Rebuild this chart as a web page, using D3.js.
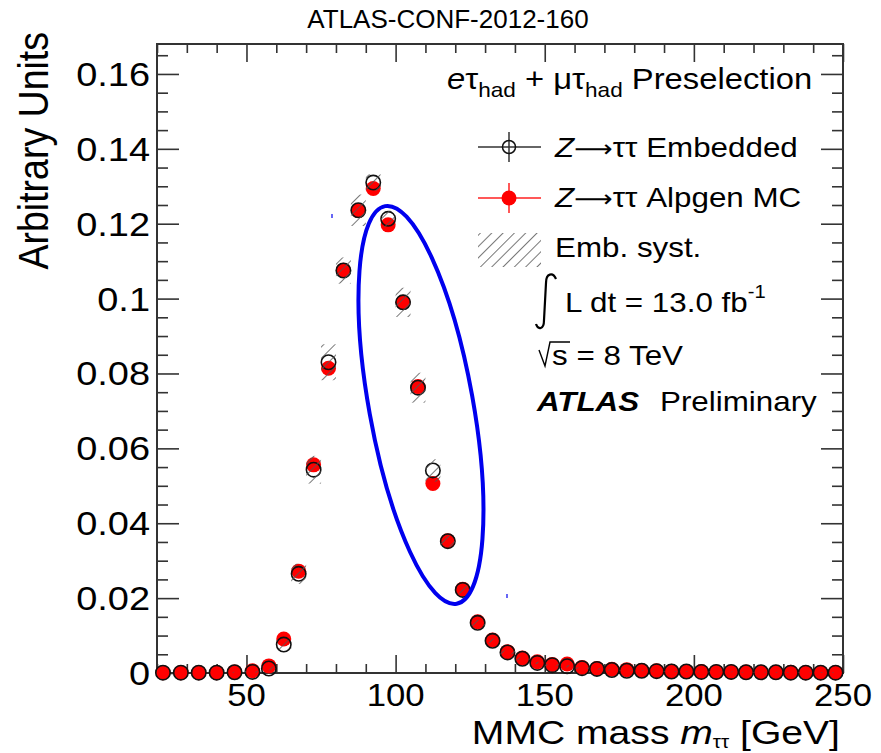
<!DOCTYPE html>
<html><head><meta charset="utf-8">
<script src="https://cdn.jsdelivr.net/npm/d3@7"></script>
<style>
body{margin:0;background:#fff}
svg{display:block}
text{font-family:"Liberation Sans",Arial,Helvetica,sans-serif;fill:#000}
</style>
</head><body>
<svg id="c" width="881" height="753"></svg>
<script>
// ---- data ----
const massBins = [22,28,34,40,46,52,57.5,62.5,67.5,72.5,77.5,82.5,87.5,92.5,97.5,102.5,107.5,112.5,117.5,122.5,127.5,132.5,137.5,142.5,147.5,152.5,157.5,162.5,167.5,172.5,177.5,182.5,187.5,192.5,197.5,202.5,207.5,212.5,217.5,222.5,227.5,232.5,237.5,242.5,247.5];
const embedded = [0.0001,0.0001,0.0001,0.0001,0.0002,0.0003,0.0012,0.0076,0.0265,0.0543,0.0830,0.1075,0.1236,0.1310,0.1213,0.0990,0.0762,0.0541,0.0352,0.0222,0.0134,0.0086,0.0055,0.0038,0.0027,0.0021,0.0018,0.0013,0.0011,0.0008,0.0006,0.0006,0.0005,0.0004,0.0004,0.0003,0.0003,0.0003,0.0002,0.0002,0.0002,0.0001,0.0001,0.0001,0.0001];
const alpgen = [0.0001,0.0001,0.0001,0.0001,0.0003,0.0006,0.0019,0.0091,0.0272,0.0556,0.0814,0.1076,0.1235,0.1294,0.1197,0.0990,0.0765,0.0506,0.0353,0.0224,0.0137,0.0088,0.0057,0.0040,0.0030,0.0023,0.0024,0.0015,0.0012,0.0010,0.0009,0.0007,0.0006,0.0005,0.0004,0.0004,0.0003,0.0003,0.0003,0.0002,0.0002,0.0002,0.0001,0.0001,0.0001];
const embSyst = [0,0,0,0,0.0001,0.0002,0.0005,0.0012,0.0027,0.0037,0.0048,0.0035,0.0042,0.0022,0.0022,0.0039,0.0040,0.0030,0.0015,0.0010,0.0008,0.0006,0.0005,0.0004,0.0003,0.0003,0.0003,0.0002,0.0002,0.0002,0.0001,0.0001,0.0001,0.0001,0.0001,0.0001,0.0001,0.0001,0.0001,0.0001,0.0001,0.0001,0.0001,0.0001,0.0001];
const binWidth = 5;
const xTickValues = [50,100,150,200,250];
const yTickValues = [0,0.02,0.04,0.06,0.08,0.1,0.12,0.14,0.16];
const xDomain = [20,250];
const yDomain = [0,0.168];
const ellipseCenter = [108.5, 0.0716];

// ---- layout ----
const L = 157, R = 843, T = 44, B = 673;
const SX = 1.12;
const svg = d3.select("#c");
const x = d3.scaleLinear(xDomain, [L, R]);
const y = d3.scaleLinear(yDomain, [B, T]);

// hatch pattern
const defs = svg.append("defs");
const pat = defs.append("pattern").attr("id","hatch").attr("patternUnits","userSpaceOnUse")
  .attr("width",8).attr("height",8).attr("patternTransform","rotate(45)");
pat.append("line").attr("x1",0).attr("y1",0).attr("x2",0).attr("y2",8)
  .attr("stroke","#555").attr("stroke-width",1.6);

// axes ticks
const xMinor = d3.range(20,251,10).filter(v=>v%50!==0);
const yMinor = d3.range(0,0.1681,0.005).filter(v=>Math.abs(v/0.02-Math.round(v/0.02))>1e-6);
function axisG(axis, tx, ty){
  const g = svg.append("g").attr("transform",`translate(${tx},${ty})`).call(axis);
  g.select(".domain").remove();
  g.selectAll("line").attr("stroke","#333").attr("stroke-width",1.6);
  g.selectAll("text").remove();
  return g;
}
axisG(d3.axisBottom(x).tickValues(xTickValues).tickSize(-18).tickFormat(""),0,B);
axisG(d3.axisBottom(x).tickValues(xMinor).tickSize(-9).tickFormat(""),0,B);
axisG(d3.axisTop(x).tickValues(xTickValues).tickSize(-18).tickFormat(""),0,T);
axisG(d3.axisTop(x).tickValues(xMinor).tickSize(-9).tickFormat(""),0,T);
axisG(d3.axisLeft(y).tickValues(yTickValues).tickSize(-22).tickFormat(""),L,0);
axisG(d3.axisLeft(y).tickValues(yMinor).tickSize(-11).tickFormat(""),L,0);
axisG(d3.axisRight(y).tickValues(yTickValues).tickSize(-22).tickFormat(""),R,0);
axisG(d3.axisRight(y).tickValues(yMinor).tickSize(-11).tickFormat(""),R,0);
svg.append("rect").attr("x",L).attr("y",T).attr("width",R-L).attr("height",B-T)
  .attr("fill","none").attr("stroke","#333").attr("stroke-width",2);

// tick labels
function stext(px, py, anchor, size, sx){
  return svg.append("text").attr("transform",`translate(${px},${py}) scale(${sx||SX},1)`)
    .attr("text-anchor",anchor).attr("font-size",size);
}
xTickValues.forEach(v=>{ stext(x(v),706,"middle",31).text(v); });
yTickValues.forEach(v=>{ stext(150,y(v)+12,"end",33,1.15).text(+v.toFixed(2)); });

// data
const pts = massBins.map((m,i)=>({m, e:embedded[i], a:alpgen[i], s:embSyst[i]}));
const plot = svg.append("g");
plot.selectAll(".red").data(pts).join("circle").attr("class","red")
  .attr("cx",d=>x(d.m)).attr("cy",d=>y(d.a)).attr("r",7.5).attr("fill","#ff0000");
plot.selectAll(".emb").data(pts).join("circle").attr("class","emb")
  .attr("cx",d=>x(d.m)).attr("cy",d=>y(d.e)).attr("r",7.2)
  .attr("fill","none").attr("stroke","#111").attr("stroke-width",1.6);
plot.selectAll(".syst").data(pts.filter(d=>d.s>0)).join("rect").attr("class","syst")
  .attr("x",d=>x(d.m-binWidth/2)).attr("width",d=>x(d.m+binWidth/2)-x(d.m-binWidth/2))
  .attr("y",d=>y(d.e+d.s)).attr("height",d=>y(d.e-d.s)-y(d.e+d.s))
  .attr("fill","url(#hatch)");

// blue ellipse annotation
const ecx = x(ellipseCenter[0]), ecy = y(ellipseCenter[1]);
svg.append("ellipse").attr("cx",ecx).attr("cy",ecy).attr("rx",52).attr("ry",202)
  .attr("transform",`rotate(-10.2,${ecx},${ecy})`)
  .attr("fill","none").attr("stroke","#0000ee").attr("stroke-width",4);
svg.append("line").attr("x1",332).attr("x2",332).attr("y1",214).attr("y2",218).attr("stroke","#0000ee").attr("stroke-width",1.2);
svg.append("line").attr("x1",507).attr("x2",507).attr("y1",594).attr("y2",598).attr("stroke","#0000ee").attr("stroke-width",1.2);

// titles
stext(448,28,"middle",26,1.0).text("ATLAS-CONF-2012-160");
svg.append("text").attr("transform",`translate(48,32) scale(1.15,1) rotate(-90)`)
  .attr("text-anchor","end").attr("font-size",37.5).text("Arbitrary Units");
const xl = stext(840,744,"end",34,1.15);
xl.append("tspan").text("MMC mass ");
xl.append("tspan").attr("font-style","italic").text("m");
xl.append("tspan").attr("font-size",18).attr("dy",4).text("ττ");
xl.append("tspan").attr("dy",-4).text(" [GeV]");

// legend
const l1 = stext(447,89,"start",29,1.13);
l1.append("tspan").attr("font-style","italic").text("e");
l1.append("tspan").text("τ");
l1.append("tspan").attr("font-size",20).attr("dy",8).text("had");
l1.append("tspan").attr("dy",-8).text(" + μτ");
l1.append("tspan").attr("font-size",20).attr("dy",8).text("had");
l1.append("tspan").attr("dy",-8).text(" Preselection");

// entry 1
svg.append("line").attr("x1",478).attr("x2",541).attr("y1",147).attr("y2",147).attr("stroke","#333").attr("stroke-width",1.5);
svg.append("line").attr("x1",509).attr("x2",509).attr("y1",132).attr("y2",162).attr("stroke","#333").attr("stroke-width",1.5);
svg.append("circle").attr("cx",509).attr("cy",147).attr("r",6.5).attr("fill","none").attr("stroke","#111").attr("stroke-width",1.5);
const e1 = stext(555,157,"start",28);
e1.append("tspan").attr("font-style","italic").text("Z");
e1.append("tspan").attr("font-family","DejaVu Sans").attr("font-size",24).text("⟶");
e1.append("tspan").text("ττ Embedded");
// entry 2
svg.append("line").attr("x1",478).attr("x2",541).attr("y1",198).attr("y2",198).attr("stroke","#ff2020").attr("stroke-width",1.5);
svg.append("line").attr("x1",509).attr("x2",509).attr("y1",183).attr("y2",213).attr("stroke","#ff2020").attr("stroke-width",1.5);
svg.append("circle").attr("cx",509).attr("cy",198).attr("r",7.5).attr("fill","#ff0000");
const e2 = stext(555,207,"start",28);
e2.append("tspan").attr("font-style","italic").text("Z");
e2.append("tspan").attr("font-family","DejaVu Sans").attr("font-size",24).text("⟶");
e2.append("tspan").text("ττ Alpgen MC");
// entry 3
svg.append("rect").attr("x",478).attr("y",233).attr("width",63).attr("height",34).attr("fill","url(#hatch)");
stext(555,257,"start",28).text("Emb. syst.");
// lumi
svg.append("path").attr("d","M556,279 C553,272 546,273 546,283 L544,320 C544,330 538,330 536,324")
  .attr("fill","none").attr("stroke","#000").attr("stroke-width",2.2);
const lu = stext(565,312,"start",28);
lu.append("tspan").text("L dt = 13.0 fb");
lu.append("tspan").attr("font-size",18).attr("dy",-14).text("-1");
// sqrt s
svg.append("path").attr("d","M539,350 L545,366 L550,342 L570,342").attr("fill","none").attr("stroke","#000").attr("stroke-width",1.4);
stext(552,365,"start",28).text("s = 8 TeV");
// ATLAS
stext(537,411,"start",28).attr("font-weight","bold").attr("font-style","italic").text("ATLAS");
stext(660,411,"start",28).text("Preliminary");
</script>
</body></html>
